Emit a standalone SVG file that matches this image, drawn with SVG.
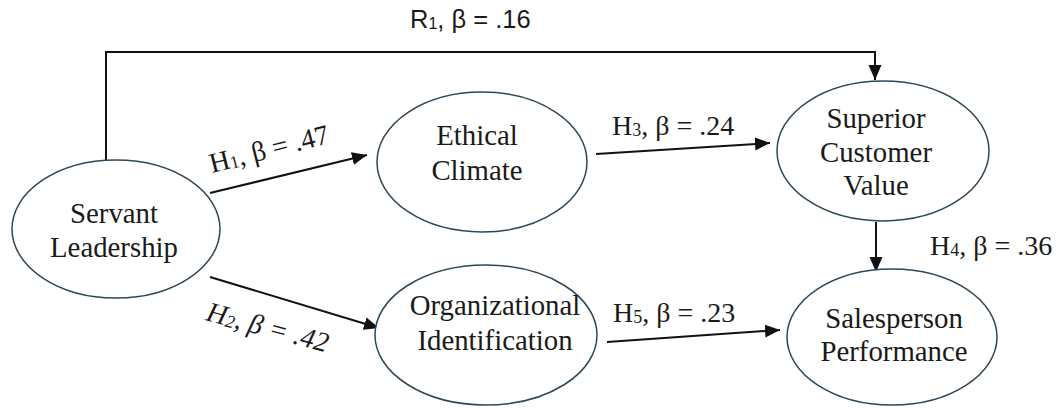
<svg xmlns="http://www.w3.org/2000/svg" width="1061" height="408" viewBox="0 0 1061 408">
<style>
.node ellipse{fill:#fff;stroke:#2e4756;stroke-width:1.5}
.node text{font-family:"Liberation Serif","Times New Roman",serif;font-size:28.8px;fill:#1a1a1a;text-anchor:middle}
.edge{fill:none;stroke:#111;stroke-width:2}
.lbl{font-family:"Liberation Serif","Times New Roman",serif;font-size:28px;fill:#1a1a1a}
.sub{font-size:18px}
</style>
<defs>
<marker id="arr" markerUnits="userSpaceOnUse" markerWidth="16" markerHeight="14" refX="15" refY="6.5" orient="auto">
<path d="M0,0 L15,6.5 L0,13 z" fill="#111"/>
</marker>
</defs>
<rect width="1061" height="408" fill="#fff"/>
<g id="connectors">
<path class="edge" d="M106,161 V52 H875 V80" marker-end="url(#arr)"/>
<path class="edge" d="M210,193 L367,155" marker-end="url(#arr)"/>
<path class="edge" d="M210,277 L379,328" marker-end="url(#arr)"/>
<path class="edge" d="M596,154 L770,143" marker-end="url(#arr)"/>
<path class="edge" d="M607,342 L780,330" marker-end="url(#arr)"/>
<path class="edge" d="M876,222 L876,272" marker-end="url(#arr)"/>
<text class="lbl" x="410" y="28" style="font-family:'Liberation Sans',Arial,sans-serif;font-size:25.5px">R<tspan class="sub" dy="1" style="font-size:16px">1</tspan><tspan dy="-1">, β = .16</tspan></text>
<text class="lbl" transform="translate(212,173) rotate(-14.3)">H<tspan class="sub" dy="1">1</tspan><tspan dy="-1">, β = .47</tspan></text>
<text class="lbl" transform="translate(205,320) rotate(15)" font-style="italic">H<tspan class="sub" dy="1">2</tspan><tspan dy="-1">, β = .42</tspan></text>
<text class="lbl" x="612" y="135">H<tspan class="sub" dy="1">3</tspan><tspan dy="-1">, β = .24</tspan></text>
<text class="lbl" x="613" y="322">H<tspan class="sub" dy="1">5</tspan><tspan dy="-1">, β = .23</tspan></text>
<text class="lbl" x="930" y="255">H<tspan class="sub" dy="1">4</tspan><tspan dy="-1">, β = .36</tspan></text>
</g>
<g id="servant" class="node">
<ellipse cx="116" cy="229" rx="104" ry="69"/>
<text x="114" y="223">Servant</text>
<text x="114" y="257">Leadership</text>
</g>
<g id="ethical" class="node">
<ellipse cx="482" cy="162" rx="105" ry="70"/>
<text x="477" y="145">Ethical</text>
<text x="477" y="180">Climate</text>
</g>
<g id="superior" class="node">
<ellipse cx="883" cy="151" rx="106" ry="70"/>
<text x="876" y="128">Superior</text>
<text x="876" y="162">Customer</text>
<text x="876" y="195">Value</text>
</g>
<g id="organizational" class="node">
<ellipse cx="486" cy="335" rx="111" ry="70"/>
<text x="495" y="315">Organizational</text>
<text x="495" y="350">Identification</text>
</g>
<g id="salesperson" class="node">
<ellipse cx="892" cy="337" rx="105" ry="68"/>
<text x="894" y="328">Salesperson</text>
<text x="894" y="361">Performance</text>
</g>
</svg>
